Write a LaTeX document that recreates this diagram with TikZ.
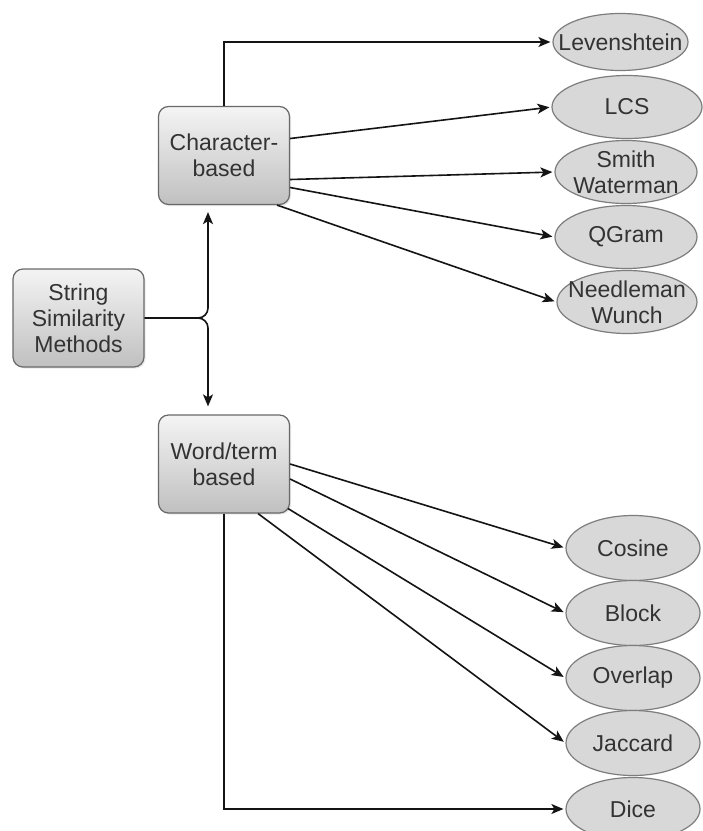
\documentclass[tikz,border=0pt]{standalone}
\usepackage{fontspec}
\setmainfont{Liberation Sans}
\usetikzlibrary{shapes.geometric,arrows.meta,shadows,shadings}
\definecolor{inkgray}{RGB}{51,51,51}
\definecolor{boxline}{RGB}{105,105,105}
\definecolor{boxtop}{RGB}{244,244,244}
\definecolor{boxbottom}{RGB}{192,192,192}
\definecolor{leaffill}{RGB}{216,216,216}
\definecolor{leafline}{RGB}{125,125,125}
\definecolor{linkcol}{RGB}{20,20,20}
\begin{document}
\begin{tikzpicture}[x=1pt,y=-1pt,
  txt/.style={font=\fontsize{23}{26}\selectfont, text=inkgray},
  method/.style={txt, rectangle, rounded corners=10pt, draw=boxline, line width=1.2pt,
    top color=boxtop, bottom color=boxbottom, minimum width=131pt, minimum height=98pt,
    align=center, inner sep=0pt,
    drop shadow={opacity=0.18, shadow xshift=1.5pt, shadow yshift=-1.5pt}},
  leaf/.style={ellipse, draw=leafline, line width=1.2pt, fill=leaffill, inner sep=0pt},
  leaftext/.style={txt, align=center, inner sep=0pt},
  link/.style={draw=linkcol, line width=1.6pt, shorten >=2pt,
    -{Stealth[length=12pt,width=10pt,inset=3pt]}},
]
% canvas
\clip (0,0) rectangle (703,831);
\fill[white] (0,0) rectangle (703,831);

% method boxes
\node[method] (ssm)  at (78.5,318) {String\\Similarity\\Methods};
\node[method] (char) at (224,155.5) {Character-\\based};
\node[method] (word) at (224,464) {Word/term\\based};

% character-based measures
\node[leaf, minimum width=135pt, minimum height=57pt, label={[leaftext]center:Levenshtein}] (lev) at (620.5,42) {};
\node[leaf, minimum width=150pt, minimum height=63pt, label={[leaftext]center:LCS}] (lcs) at (627,107) {};
\node[leaf, minimum width=142pt, minimum height=63pt, label={[leaftext]center:Smith\\Waterman}] (smith) at (626,172) {};
\node[leaf, minimum width=142pt, minimum height=63pt, label={[leaftext]center:QGram}] (qgram) at (626,237) {};
\node[leaf, minimum width=140pt, minimum height=63pt, label={[leaftext]center:Needleman\\Wunch}] (needle) at (627,302) {};

% word/term-based measures
\node[leaf, minimum width=134pt, minimum height=65pt, label={[leaftext]center:Cosine}] (cosine) at (633,548) {};
\node[leaf, minimum width=134pt, minimum height=65pt, label={[leaftext]center:Block}] (block) at (633,613) {};
\node[leaf, minimum width=134pt, minimum height=65pt, label={[leaftext]center:Overlap}] (overlap) at (633,678) {};
\node[leaf, minimum width=134pt, minimum height=65pt, label={[leaftext]center:Jaccard}] (jaccard) at (633,743) {};
\node[leaf, minimum width=134pt, minimum height=63pt, label={[leaftext]center:Dice}] (dice) at (633,809) {};

% split into the two families
\draw[link, rounded corners=10pt] (ssm.east) -- ([xshift=-16pt]char.south |- ssm.east) -- ([xshift=-16pt,yshift=-5pt]char.south);
\draw[link, rounded corners=10pt] (ssm.east) -- ([xshift=-16pt]word.north |- ssm.east) -- ([xshift=-16pt,yshift=6pt]word.north);

% character-based links
\draw[link] (char.north) |- (lev.west);
\draw[link] ([yshift=17pt]char.east) -- (lcs.west);
\draw[link] ([yshift=-24pt]char.east) -- (smith.west);
\draw[link] ([yshift=-32pt]char.east) -- (qgram.west);
\draw[link] ([xshift=-13pt]char.south east) -- (needle.west);

% word/term-based links
\draw[link] (word.east) -- (cosine.west);
\draw[link] ([yshift=-15pt]word.east) -- (block.west);
\draw[link] ([xshift=-2pt,yshift=5pt]word.south east) -- (overlap.west);
\draw[link] ([xshift=-32pt]word.south east) -- (jaccard.west);
\draw[link] (word.south) |- (dice.west);
\end{tikzpicture}
\end{document}
